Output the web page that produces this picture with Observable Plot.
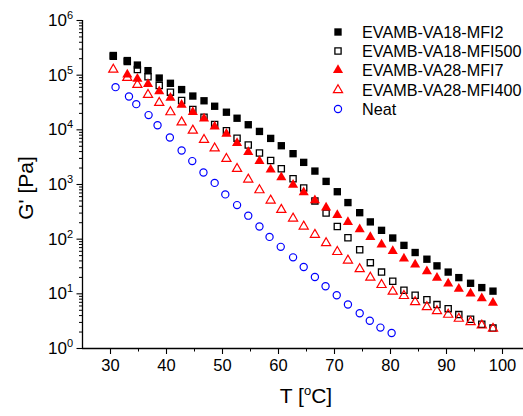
<!DOCTYPE html>
<html><head><meta charset="utf-8">
<script src="https://cdn.jsdelivr.net/npm/d3@7"></script>
<script src="https://cdn.jsdelivr.net/npm/@observablehq/plot@0.6"></script>
<style>
body{margin:0;background:#fff;}
#wrap{position:relative;width:523px;height:416px;}
</style></head><body><div id="wrap"></div>
<script>
// Temperatures (°C) shared by the four EVAMB series
const temps = [30.5, 33.0, 34.8, 36.7, 38.7, 40.7, 42.7, 44.7, 46.7, 48.6, 50.7, 52.6, 54.6, 56.6, 58.6, 60.5, 62.6, 64.5, 66.5, 68.5, 70.5, 72.4, 74.5, 76.4, 78.4, 80.4, 82.4, 84.4, 86.5, 88.3, 90.3, 92.2, 94.3, 96.3, 98.3];
const tempsMFI7 = temps.slice(1);
const tempsNeat = [30.9, 33.3, 34.6, 36.8, 38.4, 40.6, 42.7, 44.6, 46.6, 48.6, 50.5, 52.6, 54.6, 56.6, 58.4, 60.4, 62.6, 64.5, 66.5, 68.4, 70.4, 72.4, 74.5, 76.3, 78.2, 80.2];

// G' [Pa]
const gMFI2 = [229000, 185000, 153000, 121000, 88500, 71000, 54500, 41500, 34000, 27000, 21000, 16300, 12400, 9350, 6970, 5120, 3660, 2540, 1760, 1140, 738, 467, 305, 207, 145, 105, 77, 57, 43, 32.5, 25, 19.8, 15.6, 13.0, 11.2];
const gMFI500 = [222000, 178000, 127000, 93400, 64700, 48900, 34400, 23600, 17000, 12500, 9600, 7040, 5280, 3780, 2750, 1940, 1270, 867, 501, 300, 171, 106, 64, 37.2, 25, 17, 11.6, 9.4, 7.8, 6.35, 5.36, 4.17, 3.42, 2.77, 2.36];
const gMFI7 = [102000, 85300, 68500, 50800, 38300, 28800, 21200, 16000, 11500, 8480, 5710, 3910, 2680, 1870, 1350, 984, 718, 512, 377, 276, 206, 151, 109, 79.6, 60.5, 44, 34.2, 25.8, 19.6, 15.4, 12.4, 10.1, 8.28, 6.85];
const gMFI400 = [127000, 89500, 66700, 43800, 31300, 21100, 13800, 9750, 6590, 4610, 2960, 1940, 1240, 790, 512, 346, 240, 171, 121, 84.9, 58.6, 40.9, 28.4, 19.9, 14.6, 11.0, 9.19, 7.08, 5.74, 4.85, 4.17, 3.52, 3.05, 2.65, 2.31];
const gNeat = [60400, 40800, 29500, 18600, 12100, 7260, 4200, 2680, 1660, 1070, 659, 420, 269, 171, 110, 72.3, 46.5, 30.9, 20.3, 13.8, 9.4, 6.38, 4.41, 3.21, 2.41, 1.92];

const seriesNames = ["EVAMB-VA18-MFI2", "EVAMB-VA18-MFI500", "EVAMB-VA28-MFI7", "EVAMB-VA28-MFI400", "Neat"];
const xTicks = [30, 40, 50, 60, 70, 80, 90, 100];
const xMinorTicks = [35, 45, 55, 65, 75, 85, 95];
const yTicks = [1, 10, 100, 1000, 10000, 100000, 1000000];

const styles = [
  {T: temps, G: gMFI2, symbol: "square", r: 4.15, fill: "black", stroke: "none", sw: 0},
  {T: temps, G: gMFI500, symbol: "square", r: 3.5, fill: "none", stroke: "black", sw: 1.3},
  {T: tempsMFI7, G: gMFI7, symbol: "triangle", r: 3.75, fill: "red", stroke: "none", sw: 0},
  {T: temps, G: gMFI400, symbol: "triangle", r: 3.4, fill: "none", stroke: "red", sw: 1.2},
  {T: tempsNeat, G: gNeat, symbol: "circle", r: 3.6, fill: "none", stroke: "blue", sw: 1.2}
];

const yMinor = [];
for (let e = 0; e < 6; e++) for (let k = 2; k <= 9; k++) yMinor.push(k * Math.pow(10, e));

const xDomain = [25, 103.75];

const dotMarks = styles.map((s, i) => {
  const rows = s.G.map((g, j) => ({T: s.T[j], G: g, series: seriesNames[i]}));
  return Plot.dot(rows, {x: "T", y: "G", symbol: s.symbol, r: s.r, fill: s.fill, stroke: s.stroke, strokeWidth: s.sw});
});

const chart = Plot.plot({
  width: 523, height: 416,
  marginLeft: 82, marginRight: 0, marginTop: 20, marginBottom: 68,
  style: {fontFamily: "'Liberation Sans', Arial, sans-serif", fontSize: "16px", color: "black", background: "white"},
  x: {domain: xDomain},
  y: {type: "log", domain: [1, 1e6]},
  marks: [
    Plot.axisY({ticks: yMinor, tickSize: 3, tickFormat: () => "", label: null, strokeWidth: 1}),
    Plot.axisY({ticks: yTicks, tickSize: 5.5, tickPadding: 4, fontSize: 17, tickFormat: d => "10^" + Math.round(Math.log10(d)), label: null, strokeWidth: 1.1}),
    Plot.axisX({ticks: xMinorTicks, tickSize: 3.5, tickFormat: () => "", label: null, strokeWidth: 1}),
    Plot.axisX({ticks: xTicks, tickSize: 6, tickPadding: 5, fontSize: 16.5, label: null, strokeWidth: 1.1}),
    Plot.ruleY([1], {stroke: "black", strokeWidth: 1.3}),
    Plot.ruleX([xDomain[0]], {stroke: "black", strokeWidth: 1.3}),
    ...dotMarks
  ]
});

document.getElementById("wrap").appendChild(chart);
const svg = d3.select(chart);

// superscript tick labels
svg.selectAll('[aria-label="y-axis tick label"] text').each(function() {
  const t = this.textContent;
  if (!t.includes("^")) return;
  const [base, exp] = t.split("^");
  const sel = d3.select(this);
  sel.text(base);
  sel.append("tspan").attr("dy", "-7px").attr("font-size", "11px").text(exp);
});

// axis titles
svg.append("text").attr("transform", "translate(33,188) rotate(-90)")
  .attr("text-anchor", "middle").attr("font-size", 21).attr("fill", "black").text("G' [Pa]");
const xt = svg.append("text").attr("x", 306).attr("y", 403)
  .attr("text-anchor", "middle").attr("font-size", 21).attr("fill", "black");
xt.append("tspan").text("T [");
xt.append("tspan").attr("dy", "-8px").attr("font-size", "13px").text("o");
xt.append("tspan").attr("dy", "8px").text("C]");

// legend
const leg = svg.append("g").attr("aria-label", "legend").attr("text-anchor", "start");
const rowY = [32, 51, 70, 90, 109];
styles.forEach((s, i) => {
  const sym = {square: d3.symbolSquare, triangle: d3.symbolTriangle, circle: d3.symbolCircle}[s.symbol];
  leg.append("path")
    .attr("transform", `translate(338,${rowY[i]})`)
    .attr("d", d3.symbol(sym, s.r * s.r * Math.PI)())
    .attr("fill", s.fill).attr("stroke", s.stroke).attr("stroke-width", s.sw);
  leg.append("text").attr("x", 362).attr("y", rowY[i] + 5.7).attr("text-anchor", "start")
    .attr("font-size", 16.2).attr("fill", "black").text(seriesNames[i]);
});
</script>
</body></html>
